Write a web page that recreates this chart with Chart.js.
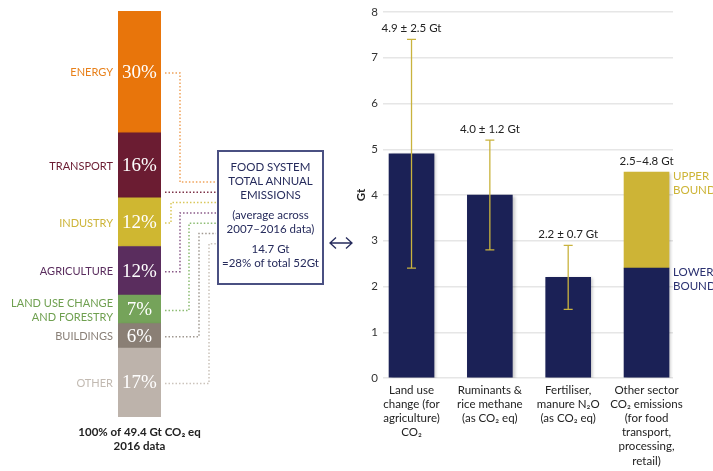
<!DOCTYPE html>
<html>
<head>
<meta charset="utf-8">
<script src="https://cdn.jsdelivr.net/npm/chart.js@4"></script>
<style>
  body { margin:0; background:#fff; }
  #wrap { position:relative; width:713px; height:471px; font-family:Lato, sans-serif; }
  #left { position:absolute; left:0; top:0; }
  #right { position:absolute; left:340px; top:0; }
  #box { position:absolute; left:217px; top:150px; width:103px; height:123px; border:2px solid #4a5082;
         color:#262b5c; text-align:center; font-size:11.5px; line-height:14px; padding-top:8px; box-sizing:content-box; }
  #box p { margin:0 0 6px 0; }
  #arrow { position:absolute; left:328px; top:236px; }
</style>
</head>
<body>
<div id="wrap">
  <canvas id="left" width="218" height="471"></canvas>
  <div id="box">
    <p>FOOD SYSTEM<br>TOTAL ANNUAL<br>EMISSIONS</p>
    <p>(average across<br>2007–2016 data)</p>
    <p style="margin:0">14.7 Gt<br>=28% of total 52Gt</p>
  </div>
  <svg id="arrow" width="26" height="14">
    <path d="M2 7 H24 M8 1.5 L2 7 L8 12.5 M18 1.5 L24 7 L18 12.5" fill="none" stroke="#262b5c" stroke-width="1.3"/>
  </svg>
  <canvas id="right" width="373" height="471"></canvas>
</div>
<script>
// left: share of 2016 emissions by sector (top to bottom)
let sectors = ['ENERGY', 'TRANSPORT', 'INDUSTRY', 'AGRICULTURE', ['LAND USE CHANGE', 'AND FORESTRY'], 'BUILDINGS', 'OTHER']
let shares = [30, 16, 12, 12, 7, 6, 17]
let shareText = ['30%', '16%', '12%', '12%', '7%', '6%', '17%']
let segColors = ['#e8750b', '#6b1c32', '#cfb731', '#5a2d5e', '#75a35a', '#8a7f75', '#bdb3ab']
let nameColors = ['#e8801a', '#6b1c32', '#cdb53a', '#5a2d5e', '#6fa050', '#8a8078', '#c2bab2']
let dotColors = ['#f0a35a', '#7d3349', '#d9c75a', '#8a5a88', '#8cbc72', '#a09890', '#cbc3bb']

// right: food system emissions, Gt
let categories = [
	['Land use', 'change (for', 'agriculture)', 'CO₂'],
	['Ruminants &', 'rice methane', '(as CO₂ eq)'],
	['Fertiliser,', 'manure N₂O', '(as CO₂ eq)'],
	['Other sector', 'CO₂ emissions', '(for food', 'transport,', 'processing,', 'retail)']
]
let lowerValues = [4.9, 4.0, 2.2, 2.4]
let upperValues = [null, null, null, 2.1]
let errLow = [2.4, 2.8, 1.5, null]
let errHigh = [7.4, 5.2, 2.9, null]
let valueText = ['4.9 ± 2.5 Gt', '4.0 ± 1.2 Gt', '2.2 ± 0.7 Gt', '2.5–4.8 Gt']

let navy = '#1b2156'
let mustard = '#cdb436'

// dotted connectors: vertical run x (null = straight), entry y into box
let routeX = [180, null, 171, 180, 189, 199, 209]

// soft shadow under the bars
const shadowPlugin = {
	id: 'barshadow',
	beforeDatasetsDraw(chart){
		const ctx = chart.ctx
		ctx.save()
		ctx.shadowColor = 'rgba(0,0,0,0.22)'
		ctx.shadowBlur = 3
		ctx.shadowOffsetX = 2
		ctx.shadowOffsetY = 1
	},
	afterDatasetsDraw(chart){
		chart.ctx.restore()
	}
}

const leftPlugin = {
	id: 'leftlabels',
	afterDatasetsDraw(chart){
		const ctx = chart.ctx
		const y = chart.scales.y
		const area = chart.chartArea
		const cx = (area.left + area.right) / 2
		let cum = 100
		ctx.save()
		sectors.forEach(function(name, i){
			let top = cum, bot = cum - shares[i]
			cum = bot
			let mid = y.getPixelForValue((top + bot) / 2)
			// percent in bar
			ctx.fillStyle = '#fff'
			ctx.font = '19px "Liberation Serif"'
			ctx.textAlign = 'center'
			ctx.textBaseline = 'middle'
			ctx.fillText(shareText[i], cx, mid + 1)
			// sector name
			ctx.fillStyle = nameColors[i]
			ctx.font = '11px Lato'
			ctx.textAlign = 'right'
			let lines = Array.isArray(name) ? name : [name]
			lines.forEach(function(l, k){
				ctx.fillText(l, area.left - 5, mid + 1 + (k - (lines.length - 1) / 2) * 14)
			})
			// connector
			let entry = 182 + i * 10.3
			let sy = mid + 1
			ctx.strokeStyle = dotColors[i]
			ctx.lineWidth = 1.5
			ctx.setLineDash([1.5, 2])
			ctx.beginPath()
			if (routeX[i] == null) {
				ctx.moveTo(area.right + 4, entry)
				ctx.lineTo(216, entry)
			} else {
				ctx.moveTo(area.right + 4, sy)
				ctx.lineTo(routeX[i], sy)
				ctx.lineTo(routeX[i], entry)
				ctx.lineTo(216, entry)
			}
			ctx.stroke()
			ctx.setLineDash([])
		})
		// caption
		ctx.fillStyle = '#222'
		ctx.textAlign = 'center'
		ctx.font = 'bold 11.5px Lato'
		ctx.fillText('100% of 49.4 Gt CO₂ eq', cx, area.bottom + 15)
		ctx.fillText('2016 data', cx, area.bottom + 29)
		ctx.restore()
	}
}

let leftSets = []
for (let i = sectors.length - 1; i >= 0; i--) {
	leftSets.push({data: [shares[i]], backgroundColor: segColors[i], borderWidth: 0, barPercentage: 1, categoryPercentage: 1})
}

new Chart(document.getElementById('left'), {
	type: 'bar',
	data: {labels: [''], datasets: leftSets},
	options: {
		responsive: false,
		animation: false,
		layout: {padding: {top: 11, bottom: 54, left: 118, right: 57}},
		plugins: {legend: {display: false}, tooltip: {enabled: false}},
		scales: {
			x: {display: false, stacked: true},
			y: {display: false, stacked: true, min: 0, max: 100}
		}
	},
	plugins: [shadowPlugin, leftPlugin]
})

const errPlugin = {
	id: 'errbars',
	afterDatasetsDraw(chart){
		const ctx = chart.ctx
		const x = chart.scales.x, y = chart.scales.y
		ctx.save()
		ctx.shadowColor = 'transparent'
		ctx.strokeStyle = '#c9b33e'
		ctx.lineWidth = 1.3
		errLow.forEach(function(lo, i){
			if (lo == null) return
			let px = x.getPixelForValue(i)
			let t = y.getPixelForValue(errHigh[i]), b = y.getPixelForValue(lo)
			ctx.beginPath()
			ctx.moveTo(px, t); ctx.lineTo(px, b)
			ctx.moveTo(px - 4.5, t); ctx.lineTo(px + 4.5, t)
			ctx.moveTo(px - 4.5, b); ctx.lineTo(px + 4.5, b)
			ctx.stroke()
		})
		ctx.fillStyle = '#222'
		ctx.font = '11.5px Lato'
		ctx.textAlign = 'center'
		ctx.textBaseline = 'bottom'
		valueText.forEach(function(s, i){
			let top = errHigh[i] != null ? errHigh[i] : lowerValues[i] + (upperValues[i] || 0)
			ctx.fillText(s, x.getPixelForValue(i), y.getPixelForValue(top) - 5)
		})
		// bound labels next to the last bar
		let bx = x.getPixelForValue(3) + 26.5
		ctx.textAlign = 'left'
		ctx.textBaseline = 'top'
		ctx.font = '11.5px Lato'
		ctx.fillStyle = mustard
		let upTop = y.getPixelForValue(lowerValues[3] + upperValues[3])
		ctx.fillText('UPPER', bx, upTop - 2)
		ctx.fillText('BOUND', bx, upTop + 12)
		ctx.fillStyle = '#2a3070'
		let loTop = y.getPixelForValue(lowerValues[3])
		ctx.fillText('LOWER', bx, loTop - 2)
		ctx.fillText('BOUND', bx, loTop + 12)
		ctx.restore()
	}
}

new Chart(document.getElementById('right'), {
	type: 'bar',
	data: {
		datasets: [
			{data: lowerValues.map((v, i) => ({x: i, y: v})), backgroundColor: navy, barThickness: 45, borderWidth: 0},
			{data: upperValues.map((v, i) => ({x: i, y: v})), backgroundColor: mustard, barThickness: 45, borderWidth: 0}
		]
	},
	options: {
		responsive: false,
		animation: false,
		layout: {padding: {top: 12, right: 40, left: 0, bottom: 0}},
		plugins: {legend: {display: false}, tooltip: {enabled: false}},
		scales: {
			x: {
				type: 'linear', min: -0.364, max: 3.338, stacked: true, offset: false,
				grid: {display: false, offset: false}, border: {display: false},
				ticks: {stepSize: 1, includeBounds: false, autoSkip: false, maxRotation: 0, padding: -3,
					color: '#222', font: {family: 'Lato', size: 11.5, lineHeight: 1.23},
					callback: function(v){ return categories[v] || '' }},
				afterFit: function(s){ s.height = 93 }
			},
			y: {
				min: 0, max: 8, stacked: true,
				grid: {color: '#e6e6e6', lineWidth: 1.5, drawTicks: false},
				border: {display: false},
				ticks: {stepSize: 1, padding: 5, color: '#333', font: {family: 'Lato', size: 11.5}},
				title: {display: true, text: 'Gt', color: '#222', font: {family: 'Lato', size: 11.5, weight: 'bold'}, padding: {top: 14, bottom: 0}},
				afterFit: function(s){ s.width = 43 }
			}
		}
	},
	plugins: [shadowPlugin, errPlugin]
})
</script>
</body>
</html>
